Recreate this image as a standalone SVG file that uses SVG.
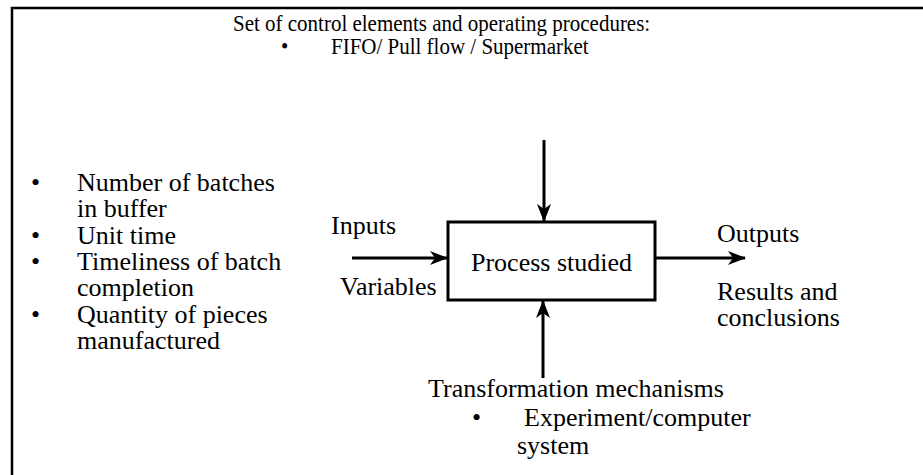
<svg xmlns="http://www.w3.org/2000/svg" width="923" height="475" viewBox="0 0 923 475">
  <style>
    .t { font-family: "Liberation Serif", "Times New Roman", serif; fill: #000; }
    .title { font-size: 24px; }
    .body { font-size: 26px; }
    .frame { stroke: #000; stroke-width: 2.5; fill: none; }
    .conn { stroke: #000; stroke-width: 3; fill: none; }
  </style>
  <defs>
    <marker id="arrow" viewBox="0 0 18 14" refX="17" refY="7" markerUnits="userSpaceOnUse" markerWidth="18" markerHeight="14" orient="auto">
      <path d="M0,0 L18,7 L0,14 L5,7 Z" fill="#000"/>
    </marker>
  </defs>

  <!-- outer frame: top and left edges -->
  <path class="frame" d="M12,475 L12,8 L923,8"/>

  <!-- control elements (top), set in a narrow face -->
  <g id="controls">
    <text class="t title" transform="translate(233,31) scale(0.875,1)">Set of control elements and operating procedures:</text>
    <text class="t title" transform="translate(281,54) scale(0.875,1)">•</text>
    <text class="t title" transform="translate(331,54) scale(0.875,1)">FIFO/ Pull flow / Supermarket</text>
  </g>

  <!-- variable list (left) -->
  <g id="variables">
    <text class="t body" x="31" y="191">•</text>
    <text class="t body" x="77" y="191">Number of batches</text>
    <text class="t body" x="77" y="217">in buffer</text>
    <text class="t body" x="31" y="244">•</text>
    <text class="t body" x="77" y="244">Unit time</text>
    <text class="t body" x="31" y="270">•</text>
    <text class="t body" x="77" y="270">Timeliness of batch</text>
    <text class="t body" x="77" y="296">completion</text>
    <text class="t body" x="31" y="323">•</text>
    <text class="t body" x="77" y="323">Quantity of pieces</text>
    <text class="t body" x="77" y="349">manufactured</text>
  </g>

  <!-- central process -->
  <g id="process">
    <rect x="448" y="222" width="207" height="78" fill="#fff" stroke="#000" stroke-width="3"/>
    <text class="t body" x="551.5" y="271" text-anchor="middle">Process studied</text>
  </g>

  <g id="inputs-label">
    <text class="t body" x="331" y="234">Inputs</text>
    <text class="t body" x="340" y="295">Variables</text>
  </g>

  <g id="outputs-label">
    <text class="t body" x="717" y="242">Outputs</text>
    <text class="t body" x="717" y="300">Results and</text>
    <text class="t body" x="717" y="326">conclusions</text>
  </g>

  <g id="mechanisms">
    <text class="t body" x="428" y="397">Transformation mechanisms</text>
    <text class="t body" x="472" y="426">•</text>
    <text class="t body" x="524" y="426">Experiment/computer</text>
    <text class="t body" x="517" y="454">system</text>
  </g>

  <!-- connectors -->
  <g id="connectors">
    <line class="conn" x1="544" y1="140" x2="544" y2="221" marker-end="url(#arrow)"/>
    <line class="conn" x1="352" y1="258" x2="447" y2="258" marker-end="url(#arrow)"/>
    <line class="conn" x1="656" y1="258" x2="745" y2="258" marker-end="url(#arrow)"/>
    <line class="conn" x1="543" y1="378" x2="543" y2="301" marker-end="url(#arrow)"/>
  </g>
</svg>
